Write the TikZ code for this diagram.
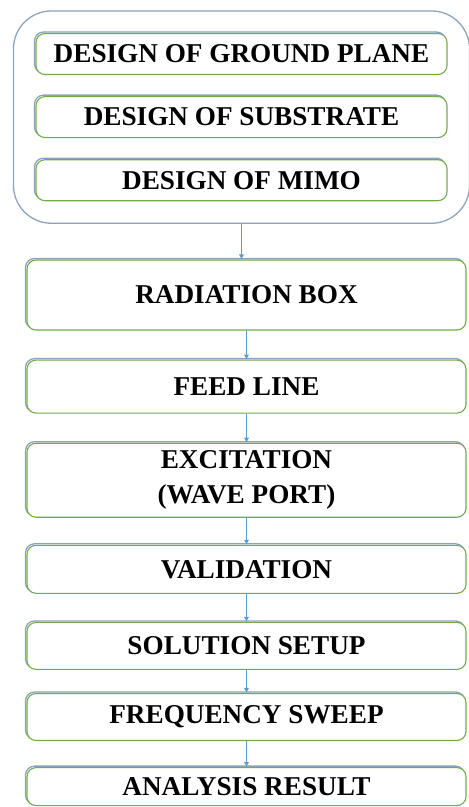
\documentclass[tikz,border=0pt]{standalone}
\usepackage{fontspec}
\setmainfont{Liberation Serif}
\usepackage{tikz}
\usetikzlibrary{positioning,fit,shadows,arrows.meta}
\definecolor{boxgreen}{HTML}{70AD47}
\definecolor{shadowblue}{HTML}{8EA2BE}
\definecolor{arrowblue}{HTML}{5B9BD5}
\tikzset{
  stage/.style={draw=boxgreen, line width=1.1pt, rounded corners=9pt, fill=white,
    general shadow={draw=shadowblue, line width=1.3pt, shadow xshift=-1.5pt, shadow yshift=1.5pt},
    minimum width=439pt, inner sep=0pt, align=center,
    font=\fontsize{27.2}{35}\selectfont\bfseries},
  part/.style={stage, minimum width=411pt, minimum height=41pt},
  flow/.style={draw=arrowblue, line width=1.1pt, -{Latex[length=5pt,width=5.5pt]}}
}
\begin{document}
\begin{tikzpicture}[x=1pt, y=-1pt, node distance=27pt]
    \useasboundingbox (0,0) rectangle (469,807);
    \node [part] (GP) at (241.5,54) {DESIGN OF GROUND PLANE};
    \node [part, below=21pt of GP] (SUB) {DESIGN OF SUBSTRATE};
    \node [part, below=21pt of SUB] (MIMO) {DESIGN OF MIMO};
    \node [draw=shadowblue, line width=1.3pt, rounded corners=38pt, inner xsep=22pt, inner ysep=22pt, fit=(GP)(MIMO)] (DES) {};

    \node [stage, minimum height=70pt] (RAD) at (246.5,295) {RADIATION BOX};
    \node [stage, minimum height=53pt, below=29pt of RAD] (FEED) {FEED LINE};
    \node [stage, minimum height=74pt, below=29pt of FEED] (EXC) {EXCITATION\\(WAVE PORT)};
    \node [stage, minimum height=48pt, below=of EXC] (VAL) {VALIDATION};
    \node [stage, minimum height=47pt, below=28pt of VAL] (SOL) {SOLUTION SETUP};
    \node [stage, minimum height=47pt, below=23pt of SOL] (FREQ) {FREQUENCY SWEEP};
    \node [stage, minimum height=38pt, below=26pt of FREQ] (RES) {ANALYSIS RESULT};

    \draw [flow] (DES.south -| MIMO) -- (MIMO |- RAD.north);
    \draw [flow] (RAD) -- (FEED);
    \draw [flow] (FEED) -- (EXC);
    \draw [flow] (EXC) -- (VAL);
    \draw [flow] (VAL) -- (SOL);
    \draw [flow] (SOL) -- (FREQ);
    \draw [flow] (FREQ) -- (RES);
\end{tikzpicture}
\end{document}
